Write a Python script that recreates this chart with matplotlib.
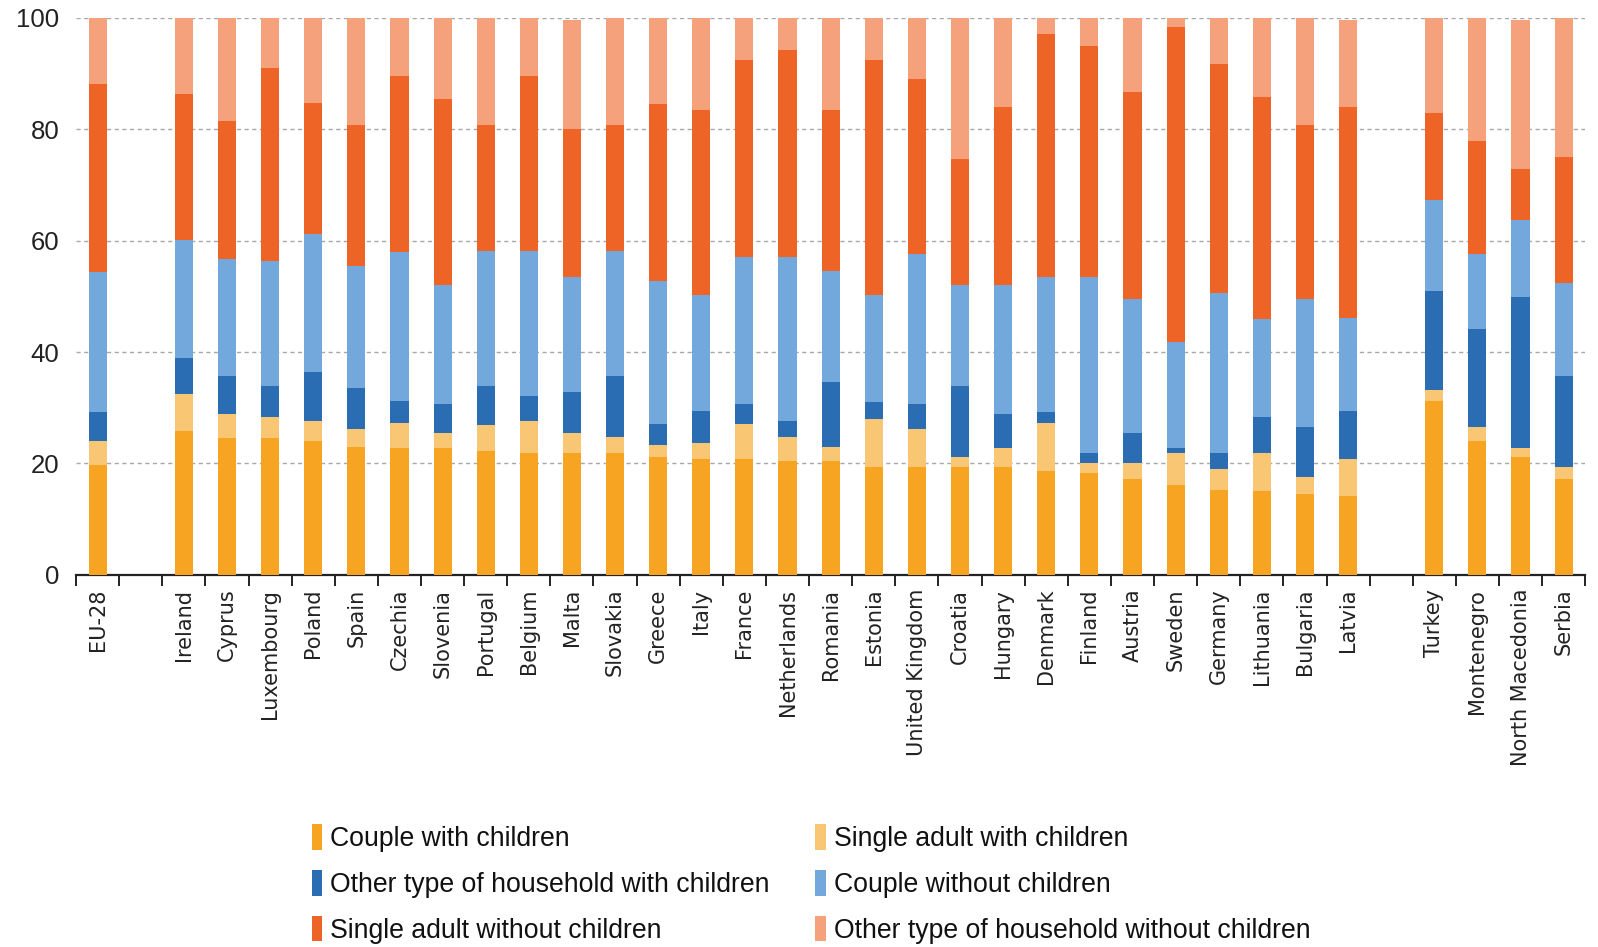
import matplotlib
matplotlib.use("Agg")
import matplotlib.pyplot as plt
from matplotlib.patches import Patch
import numpy as np

# Categories: EU aggregate, EU member states, candidate countries
eu_total = ["EU-28"]
member_states = ["Ireland", "Cyprus", "Luxembourg", "Poland", "Spain", "Czechia",
                 "Slovenia", "Portugal", "Belgium", "Malta", "Slovakia", "Greece",
                 "Italy", "France", "Netherlands", "Romania", "Estonia",
                 "United Kingdom", "Croatia", "Hungary", "Denmark", "Finland",
                 "Austria", "Sweden", "Germany", "Lithuania", "Bulgaria", "Latvia"]
candidates = ["Turkey", "Montenegro", "North Macedonia", "Serbia"]

series_names = ["Couple with children", "Single adult with children",
                "Other type of household with children", "Couple without children",
                "Single adult without children", "Other type of household without children"]

# Shares of households (%), in category order
couple_with = [19.7,
               25.9, 24.5, 24.5, 24.1, 23.0, 22.7, 22.7, 22.3, 21.9, 21.9, 21.9, 21.2,
               20.8, 20.8, 20.5, 20.5, 19.4, 19.4, 19.4, 19.4, 18.6, 18.3, 17.2, 16.1,
               15.3, 15.0, 14.6, 14.2,
               31.3, 24.1, 21.2, 17.2]
single_with = [4.3,
               6.5, 4.3, 3.9, 3.6, 3.2, 4.6, 2.8, 4.6, 5.8, 3.6, 2.9, 2.2,
               2.9, 6.2, 4.3, 2.5, 8.6, 6.8, 1.8, 3.3, 8.7, 1.8, 2.9, 5.8,
               3.7, 6.9, 2.9, 6.6,
               1.9, 2.5, 1.5, 2.2]
other_with = [5.2,
              6.5, 6.9, 5.5, 8.8, 7.3, 4.0, 5.1, 7.0, 4.4, 7.3, 10.9, 3.6,
              5.8, 3.6, 2.9, 11.7, 3.0, 4.4, 12.7, 6.1, 1.9, 1.8, 5.4, 0.8,
              2.9, 6.5, 9.1, 8.7,
              17.8, 17.5, 27.2, 16.3]
couple_without = [25.1,
                  21.2, 21.0, 22.5, 24.7, 21.9, 26.6, 21.5, 24.3, 26.1, 20.7, 22.5, 25.7,
                  20.7, 26.5, 29.4, 19.9, 19.2, 27.0, 18.2, 23.3, 24.3, 31.6, 24.0, 19.2,
                  28.7, 17.5, 22.9, 16.7,
                  16.3, 13.5, 13.8, 16.7]
single_without = [33.8,
                  26.2, 24.8, 34.6, 23.6, 25.4, 31.6, 33.4, 22.6, 31.3, 26.6, 22.6, 31.8,
                  33.2, 35.3, 37.1, 28.8, 42.2, 31.5, 22.6, 32.0, 43.7, 41.5, 37.2, 56.4,
                  41.1, 40.0, 31.3, 37.9,
                  15.7, 20.3, 9.1, 22.6]
other_without = [11.9,
                 13.7, 18.5, 9.0, 15.2, 19.2, 10.5, 14.5, 19.2, 10.5, 19.6, 19.2, 15.5,
                 16.6, 7.6, 5.8, 16.6, 7.6, 10.9, 25.3, 15.9, 2.8, 5.0, 13.3, 1.7,
                 8.3, 14.1, 19.2, 15.6,
                 17.0, 22.1, 26.9, 25.0]

colors = ["#F6A421", "#F9C674", "#2A6DB2", "#72A8DC", "#EE6427", "#F4A17C"]

# Slot positions: an empty slot separates each group of categories
labels = eu_total + member_states + candidates
pos = ([0] + list(range(2, 2 + len(member_states)))
       + list(range(3 + len(member_states), 3 + len(member_states) + len(candidates))))
pos = np.array(pos, dtype=float)
n_slots = 3 + len(member_states) + len(candidates)

fig = plt.figure(figsize=(15.98, 9.47), dpi=100)
ax = fig.add_axes([0.0476, 0.393, 0.9444, 0.588])

data = [couple_with, single_with, other_with, couple_without, single_without, other_without]
bottom = np.zeros(len(labels))
handles = []
for vals, col, name in zip(data, colors, series_names):
    vals = np.array(vals)
    ax.bar(pos, vals, bottom=bottom, width=0.42, color=col, linewidth=0, zorder=3)
    bottom += vals
    handles.append(Patch(facecolor=col, edgecolor="none", label=name))

ax.set_xlim(-0.5, n_slots - 0.5)
ax.set_ylim(0, 100)

# Axis styling
for s in ["left", "right", "top"]:
    ax.spines[s].set_visible(False)
ax.spines["bottom"].set_linewidth(1.6)
ax.spines["bottom"].set_color("#222222")

ax.set_yticks(np.arange(0, 101, 20))
ax.tick_params(axis="y", length=0, pad=12, labelsize=18.5, labelcolor="#222222")
ax.yaxis.grid(True, linestyle=(0, (3, 2.5)), color="#A8A8A8", linewidth=1.0, zorder=0)
ax.set_axisbelow(True)

ax.set_xticks(pos)
ax.set_xticklabels(labels, rotation=90, fontsize=15, color="#222222",
                   family=["DejaVu Sans"])
ax.tick_params(axis="x", which="major", length=0, pad=10)
ax.set_xticks(np.arange(-0.5, n_slots, 1.0), minor=True)
ax.tick_params(axis="x", which="minor", length=8, width=1.4, direction="out", color="#222222")
for t in ax.get_yticklabels():
    t.set_family(["Liberation Sans", "DejaVu Sans"])

# Legend: row-major reading order across two columns
order = [0, 2, 4, 1, 3, 5]
leg = fig.legend([handles[i] for i in order], [series_names[i] for i in order],
                 ncol=2, loc="upper left", bbox_to_anchor=(0.180, 0.155),
                 frameon=False, handlelength=0.4, handleheight=1.1, handletextpad=0.3,
                 columnspacing=1.7, labelspacing=0.67,
                 prop={"family": ["Liberation Sans"], "size": 19.2})
for txt in leg.get_texts():
    txt.set_color("#111111")

fig.savefig("out.png", dpi=100)
